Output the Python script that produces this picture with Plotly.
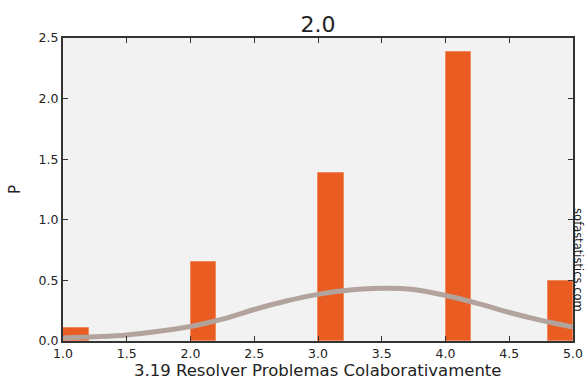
import plotly.graph_objects as go

bin_left = [1.0, 2.0, 3.0, 4.0, 4.8]
bin_width = [0.2, 0.2, 0.2, 0.2, 0.2]
density = [0.107, 0.654, 1.386, 2.385, 0.497]

curve_x = [1.0, 1.25, 1.5, 1.75, 2.0, 2.25, 2.5, 2.75, 3.0, 3.25, 3.5, 3.75, 4.0, 4.25, 4.5, 4.75, 5.0]
curve_y = [0.025, 0.035, 0.05, 0.08, 0.12, 0.18, 0.26, 0.33, 0.385, 0.42, 0.435, 0.425, 0.375, 0.31, 0.235, 0.17, 0.115]

x_ticks = [1.0, 1.5, 2.0, 2.5, 3.0, 3.5, 4.0, 4.5, 5.0]
y_ticks = [0.0, 0.5, 1.0, 1.5, 2.0, 2.5]

x_title = "3.19 Resolver Problemas Colaborativamente"
y_title = "P"
chart_title = "2.0"
watermark = "sofastatistics.com"

FONT = "DejaVu Sans"

fig = go.Figure()
fig.add_trace(go.Bar(
    x=bin_left, y=density, width=bin_width, offset=0,
    marker=dict(color="#e95d22", line=dict(color="#f08a5d", width=1)),
    showlegend=False, hoverinfo="skip",
))
fig.add_trace(go.Scatter(
    x=curve_x, y=curve_y, mode="lines", line=dict(color="#b3a39d", width=5, shape="spline"),
    showlegend=False, hoverinfo="skip",
))

axis_common = dict(
    showline=True, mirror="ticks", linecolor="#333333", linewidth=2,
    ticks="inside", ticklen=5, tickcolor="#333333", tickwidth=1,
    showgrid=False, zeroline=False, automargin=False,
    tickfont=dict(family=FONT, size=12.5, color="#222222"),
)

fig.update_layout(
    width=586, height=379,
    margin=dict(l=63, r=13, t=38, b=38, autoexpand=False),
    paper_bgcolor="white", plot_bgcolor="#f2f2f2",
    title=dict(text=chart_title, x=0.5425, xanchor="center", y=0.935, yanchor="middle",
               font=dict(family=FONT, size=22, color="#222222")),
    xaxis=dict(range=[1.0, 5.0], tickvals=x_ticks, ticktext=[f"{v:.1f}" for v in x_ticks],
               **axis_common),
    yaxis=dict(range=[0, 2.5], tickvals=y_ticks, ticktext=[f"{v:.1f}" for v in y_ticks],
               title=dict(text=y_title, standoff=14, font=dict(family=FONT, size=15, color="#222222")),
               **axis_common),
    bargap=0,
)

fig.add_annotation(
    text=x_title, xref="paper", yref="paper", x=0.5, y=0,
    xanchor="center", yanchor="middle", yshift=-29, showarrow=False,
    font=dict(family=FONT, size=16.5, color="#222222"),
)

fig.add_annotation(
    text=watermark, xref="paper", yref="paper", x=1.0, y=0.267,
    xanchor="center", yanchor="middle",
    xshift=5, showarrow=False, textangle=90,
    font=dict(family=FONT, size=11.5, color="#222222"),
)

fig.write_html("out.html")
